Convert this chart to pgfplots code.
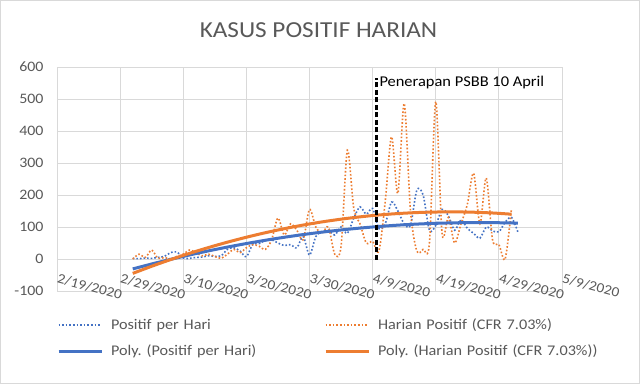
\documentclass[border=0pt]{standalone}
\usepackage{pgfplots}
\pgfplotsset{compat=1.18}
\usepackage{fontspec}
\setmainfont{Carlito}[FakeStretch=1.1]
\frenchspacing
\definecolor{xblue}{HTML}{4472C4}
\definecolor{xorange}{HTML}{ED7D31}
\definecolor{xgrid}{HTML}{D9D9D9}
\definecolor{xtext}{HTML}{595959}
\pgfplotstableread{
d v
12 2
13 1
14 3
15 2
16 5
17 8
18 20
19 22
20 3
21 2
22 5
23 6
24 10
25 8
26 10
27 30
28 35
29 25
30 7
31 45
32 48
33 58
34 60
35 50
36 42
37 45
38 35
39 70
40 12
41 70
42 85
43 90
44 75
45 100
46 80
47 127
48 163
49 140
50 158
51 95
52 110
53 178
54 150
55 110
56 105
57 215
58 200
59 90
60 105
61 155
62 135
63 90
64 122
65 96
66 80
67 65
68 100
69 88
70 85
71 115
72 130
73 85
}\blue
\pgfplotstableread{
d v
12 0
13 15
14 5
15 28
16 2
17 5
18 0
19 8
20 15
21 28
22 20
23 10
24 15
25 8
26 2
27 15
28 30
29 20
30 35
31 45
32 40
33 30
34 60
35 128
36 75
37 110
38 90
39 60
40 155
41 100
42 80
43 100
44 15
45 40
46 340
47 160
48 110
49 50
50 55
51 25
52 180
53 382
54 205
55 486
56 150
57 25
58 30
59 50
60 492
61 80
62 130
63 50
64 110
65 170
66 268
67 110
68 253
69 60
70 45
71 0
72 158
}\orange
\pgfplotstableread{
d v
12 -31
15 -15.6
18 -1.1
21 12.6
24 25.4
27 37.3
30 48.3
33 58.5
36 67.9
39 76.4
42 84.0
45 90.7
48 96.6
51 101.6
54 105.8
57 109.1
60 111.5
63 113.1
66 113.8
69 113.6
72 112.6
73 112.0
}\bluepoly
\pgfplotstableread{
d v
12 -45
15 -22.7
18 -1.8
21 17.7
24 35.8
27 52.6
30 68.0
33 82.1
36 94.7
39 106.1
42 116.0
45 124.5
48 131.7
51 137.6
54 142.0
57 145.1
60 146.8
63 147.2
66 146.2
69 143.8
72 140.0
}\orangepoly
\begin{document}
\begin{tikzpicture}
\path[use as bounding box] (-57bp,-93bp) rectangle (583bp,291bp);
\fill[white] (-57bp,-93bp) rectangle (583bp,291bp);
\draw[xgrid, line width=1bp] (-56.5bp,-92.5bp) rectangle (582.5bp,290.5bp);
\begin{axis}[
  at={(0,0)}, anchor=south west,
  scale only axis, width=505bp, height=224bp,
  xmin=0, xmax=80, ymin=-100, ymax=600,
  xtick={0,10,...,80},
  xticklabels={2/19/2020,2/29/2020,3/10/2020,3/20/2020,3/30/2020,4/9/2020,4/19/2020,4/29/2020,5/9/2020},
  ytick={-100,0,100,200,300,400,500,600},
  yticklabels={-100,0,100,200,300,400,500,600},
  /pgf/number format/assume math mode=true,
  grid=major, major grid style={xgrid, line width=0.8bp},
  axis line style={draw=none},
  tick style={draw=none},
  xticklabel style={font=\fontsize{14}{16}\selectfont, text=xtext, rotate=-15, anchor=north west, yshift=21bp, xshift=-6bp},
  yticklabel style={font=\fontsize{14.5}{16}\selectfont, text=xtext, xshift=-10bp},
  legend columns=2,
  legend cell align=left,
  legend image code/.code={\draw[#1] (0bp,0bp) -- (43bp,0bp);},
  legend style={draw=none, fill=none, inner sep=0pt, outer sep=0pt,
    at={(rel axis cs:0,0)}, anchor=north west, yshift=-27bp,
    font=\fontsize{14.8}{17}\selectfont, text=xtext,
    row sep=11.5bp,
    /tikz/every odd column/.append style={column sep=8bp},
    nodes={inner sep=0bp, text width=213bp, align=left, text height=11bp, text depth=3.5bp}},
]
\addplot[xblue, line width=1.6bp, dash pattern=on 1.6bp off 2bp, smooth] table[x=d,y=v] {\blue};
\addlegendentry{Positif per Hari}
\addplot[xorange, line width=1.6bp, dash pattern=on 1.6bp off 2bp, smooth] table[x=d,y=v] {\orange};
\addlegendentry{Harian Positif (CFR 7.03\%)}
\addplot[xblue, line width=3bp, smooth] table[x=d,y=v] {\bluepoly};
\addlegendentry{Poly. (Positif per Hari)}
\addplot[xorange, line width=3bp, smooth] table[x=d,y=v] {\orangepoly};
\addlegendentry{\makebox[0pt][l]{Poly. (Harian Positif (CFR 7.03\%))}}
\addplot[black, line width=2.2bp, dash pattern=on 5bp off 2.5bp, forget plot] coordinates {(50.6,-3) (50.6,565)};
\node[anchor=west, font=\fontsize{15}{17}\selectfont, inner sep=1bp] at (axis cs:50.9,550) {Penerapan PSBB 10 April};
\end{axis}
\node[font=\fontsize{23}{26}\selectfont, text=xtext] at (261.5bp,261bp) {KASUS POSITIF HARIAN};
\end{tikzpicture}
\end{document}
